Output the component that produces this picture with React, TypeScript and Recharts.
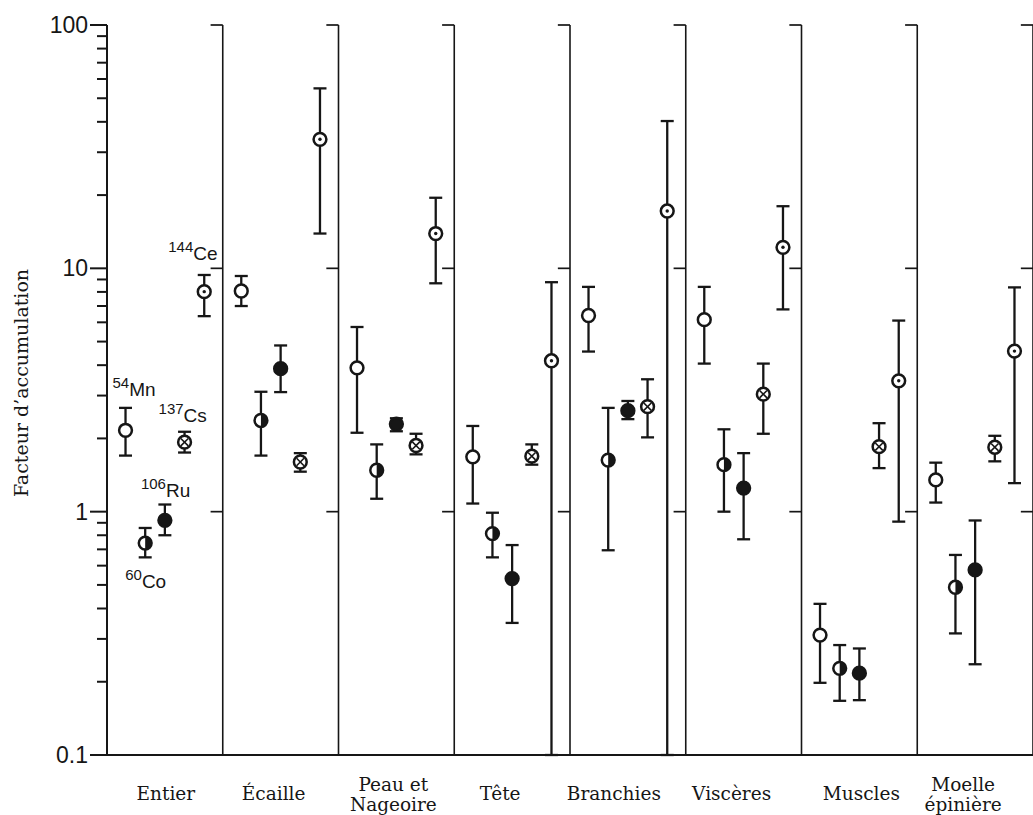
import { ScatterChart, Scatter, XAxis, YAxis, ErrorBar, ReferenceLine } from 'recharts'

const ORGANS = ['Entier', 'Écaille', 'Peau et|Nageoire', 'Tête', 'Branchies', 'Viscères', 'Muscles', 'Moelle|épinière']

// [valeur, borne basse, borne haute] par organe, dans l'ordre de ORGANS
const MN54 = [[2.16, 1.7, 2.67], [8.07, 7.0, 9.3], [3.9, 2.11, 5.74], [1.68, 1.08, 2.25], [6.4, 4.55, 8.39], [6.15, 4.06, 8.39], [0.311, 0.198, 0.418], [1.35, 1.09, 1.59]]
const CO60 = [[0.743, 0.649, 0.857], [2.37, 1.7, 3.11], [1.48, 1.13, 1.89], [0.813, 0.649, 0.99], [1.63, 0.694, 2.67], [1.56, 1.0, 2.18], [0.227, 0.167, 0.283], [0.489, 0.316, 0.664]]
const RU106 = [[0.921, 0.8, 1.07], [3.87, 3.1, 4.82], [2.29, 2.14, 2.42], [0.531, 0.349, 0.729], [2.6, 2.4, 2.85], [1.25, 0.77, 1.74], [0.217, 0.168, 0.274], [0.576, 0.236, 0.92]]
const CS137 = [[1.93, 1.75, 2.13], [1.6, 1.46, 1.74], [1.87, 1.72, 2.09], [1.69, 1.56, 1.89], [2.7, 2.02, 3.5], [3.04, 2.09, 4.06], [1.85, 1.51, 2.31], [1.84, 1.61, 2.05]]
const CE144 = [[8.02, 6.36, 9.39], [33.9, 13.9, 54.9], [13.9, 8.68, 19.5], [4.17, 0.1, 8.77], [17.2, 0.1, 40.3], [12.2, 6.78, 18.0], [3.45, 0.91, 6.1], [4.57, 1.31, 8.35]]

const Y_MAJOR = [0.1, 1, 10, 100]
const Y_LABELS = ['0.1', '1', '10', '100']
const Y_MINOR = [0.2, 0.3, 0.4, 0.5, 0.6, 0.7, 0.8, 0.9, 2, 3, 4, 5, 6, 7, 8, 9, 20, 30, 40, 50, 60, 70, 80, 90]
const X_TICKS = [0.5, 1.5, 2.5, 3.5, 4.5, 5.5, 6.5, 7.5]
const DIVIDERS = [1, 2, 3, 4, 5, 6, 7, 8]

// petits decalages des noms d'organes (px), comme sur l'original
const ORGAN_NUDGE = [1, -7, -3, -12, -14, -12, 2, -12]

const INK = '#161616'
const SANS = '"Liberation Sans", Arial, sans-serif'
const SERIF = '"DejaVu Serif", "Liberation Serif", serif'

// etiquettes des isotopes, placees pres des points du panneau "Entier"
const ISOTOPES = [
  { key: 'mn', mass: '54', sym: 'Mn', kind: 'open', rows: MN54, lab: [-13, -34] },
  { key: 'co', mass: '60', sym: 'Co', kind: 'half', rows: CO60, lab: [-20, 45] },
  { key: 'ru', mass: '106', sym: 'Ru', kind: 'filled', rows: RU106, lab: [-24, -23] },
  { key: 'cs', mass: '137', sym: 'Cs', kind: 'cross', rows: CS137, lab: [-26, -20] },
  { key: 'ce', mass: '144', sym: 'Ce', kind: 'dot', rows: CE144, lab: [-36, -32] },
]

const R = 6.4

const Marker = ({ cx, cy, payload, iso }: any) => {
  if (cx == null || cy == null) return null
  return (
    <g>
      <circle cx={cx} cy={cy} r={R} fill={iso.kind === 'filled' ? INK : '#fff'} stroke={INK} strokeWidth={2.5} />
      {iso.kind === 'half' && (
        <path d={`M ${cx} ${cy - R} A ${R} ${R} 0 0 1 ${cx} ${cy + R} Z`} fill={INK} />
      )}
      {iso.kind === 'cross' && (
        <g stroke={INK} strokeWidth={1.6}>
          <line x1={cx - 3.7} y1={cy - 3.7} x2={cx + 3.7} y2={cy + 3.7} />
          <line x1={cx - 3.7} y1={cy + 3.7} x2={cx + 3.7} y2={cy - 3.7} />
        </g>
      )}
      {iso.kind === 'dot' && <circle cx={cx} cy={cy} r={1.7} fill={INK} />}
      {payload.panel === 0 && (
        <text x={cx + iso.lab[0]} y={cy + iso.lab[1]} fill={INK} fontFamily={SANS}>
          <tspan fontSize={15} dy={-8}>{iso.mass}</tspan>
          <tspan fontSize={19} dy={8}>{iso.sym}</tspan>
        </text>
      )}
    </g>
  )
}

const YTick = ({ x, y, payload }: any) => {
  const i = Y_MAJOR.indexOf(payload.value)
  return (
    <g>
      <line x1={x - 17} x2={x} y1={y} y2={y} stroke={INK} strokeWidth={2} />
      <text x={x - 19} y={y} textAnchor="end" dominantBaseline="central" fontSize={23} fontFamily={SANS} fill={INK}>
        {Y_LABELS[i]}
      </text>
    </g>
  )
}

// trait vertical sur l'axe y (x = 0) qui porte les graduations mineures,
// placees en log entre les extremites que fournit la ReferenceLine
const AxisMinor = ({ x1, y1, y2 }: any) => {
  const top = Math.min(y1, y2)
  const bottom = Math.max(y1, y2)
  const lo = Math.log10(Y_MAJOR[0])
  const span = Math.log10(Y_MAJOR[Y_MAJOR.length - 1]) - lo
  return (
    <g stroke={INK} strokeWidth={2} fill="none">
      {Y_MINOR.map(t => {
        const yy = bottom - (bottom - top) * (Math.log10(t) - lo) / span
        return <line key={t} x1={x1 - 10} x2={x1} y1={yy} y2={yy} />
      })}
    </g>
  )
}

const XTick = ({ x, y, payload }: any) => {
  const p = Math.round(payload.value - 0.5)
  const lines = ORGANS[p].split('|')
  const cx = x + ORGAN_NUDGE[p]
  const base = lines.length === 1 ? y + 45 : y + 36
  return (
    <text x={cx} y={base} textAnchor="middle" fontSize={18.5} fontFamily={SERIF} fill={INK}>
      {lines.map((l, k) => (
        <tspan key={k} x={cx} dy={k === 0 ? 0 : 20}>{l}</tspan>
      ))}
    </text>
  )
}

export default function App() {
  const series = ISOTOPES.map((iso, k) => ({
    iso,
    data: iso.rows.map(([v, lo, hi], p) => ({
      x: p + 0.5 + (k - 2) * 0.17,
      y: v,
      err: [v - lo, hi - v],
      panel: p,
    })),
  }))

  return (
    <div style={{ position: 'absolute', left: 0, top: 0, background: '#fff' }}>
      <ScatterChart width={1033} height={815} margin={{ top: 25, right: 0, bottom: 0, left: 0 }}>
        <XAxis
          type="number"
          dataKey="x"
          domain={[0, 8]}
          ticks={X_TICKS}
          interval={0}
          tick={<XTick />}
          tickLine={false}
          tickSize={0}
          tickMargin={0}
          height={60}
          axisLine={{ stroke: INK, strokeWidth: 2 }}
          allowDataOverflow
        />
        <YAxis
          type="number"
          dataKey="y"
          scale="log"
          domain={[0.1, 100]}
          ticks={Y_MAJOR}
          interval={0}
          tick={<YTick />}
          tickLine={false}
          tickSize={0}
          tickMargin={0}
          width={107}
          axisLine={{ stroke: INK, strokeWidth: 2 }}
          allowDataOverflow
          label={{
            content: () => (
              <text x={28} y={383} transform="rotate(-90 28 383)" textAnchor="middle" fontSize={19} fontFamily={SERIF} fill={INK}>
                Facteur d’accumulation
              </text>
            ),
          }}
        />

        <ReferenceLine x={0} ifOverflow="visible" shape={<AxisMinor />} />

        {DIVIDERS.map(d => (
          <ReferenceLine key={d} x={d} stroke={INK} strokeWidth={1.6} ifOverflow="visible" />
        ))}
        {DIVIDERS.flatMap(d =>
          Y_MAJOR.slice(1).map(t => (
            <ReferenceLine
              key={`${d}-${t}`}
              segment={[{ x: d - 0.105, y: t }, { x: d, y: t }]}
              stroke={INK}
              strokeWidth={1.7}
              ifOverflow="visible"
            />
          ))
        )}

        {series.map(({ iso, data }) => (
          <Scatter
            key={iso.key}
            data={data}
            isAnimationActive={false}
            shape={(p: any) => <Marker {...p} iso={iso} />}
          >
            <ErrorBar dataKey="err" direction="y" width={6.5} stroke={INK} strokeWidth={2.3} />
          </Scatter>
        ))}
      </ScatterChart>
    </div>
  )
}
